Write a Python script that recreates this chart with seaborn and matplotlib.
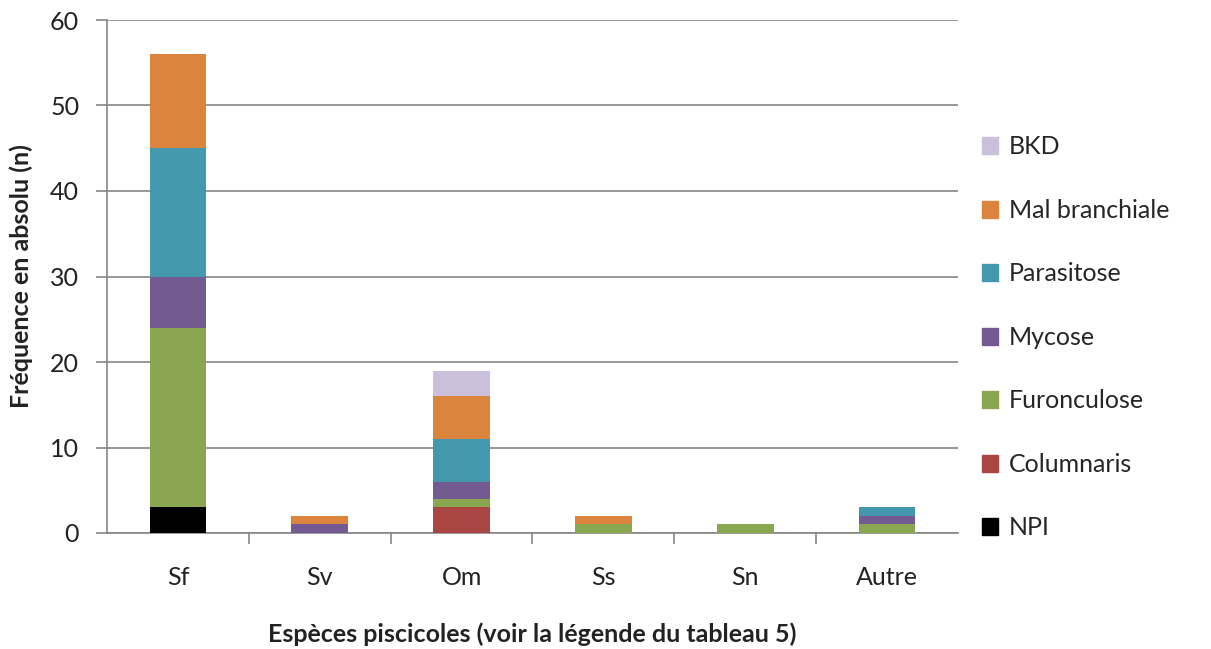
import seaborn as sns
import matplotlib.pyplot as plt
import matplotlib.patches as mpatches
import numpy as np
import pandas as pd

# data
especes = ['Sf', 'Sv', 'Om', 'Ss', 'Sn', 'Autre']
npi = [3, 0, 0, 0, 0, 0]
columnaris = [0, 0, 3, 0, 0, 0]
furonculose = [21, 0, 1, 1, 1, 1]
mycose = [6, 1, 2, 0, 0, 1]
parasitose = [15, 0, 5, 0, 0, 1]
mal_branchiale = [11, 1, 5, 1, 0, 0]
bkd = [0, 0, 3, 0, 0, 0]

maladies = ['NPI', 'Columnaris', 'Furonculose', 'Mycose', 'Parasitose', 'Mal branchiale', 'BKD']
couleurs = ['#000000', '#A94643', '#8BA650', '#735A90', '#4398AE', '#DB843D', '#CBC0DB']

sns.set_theme(style="white")
plt.rcParams['font.family'] = ['Liberation Sans Narrow', 'Lato', 'DejaVu Sans']

df = pd.DataFrame({'Espece': especes, 'NPI': npi, 'Columnaris': columnaris,
                   'Furonculose': furonculose, 'Mycose': mycose, 'Parasitose': parasitose,
                   'Mal branchiale': mal_branchiale, 'BKD': bkd})
cum = df[maladies].cumsum(axis=1)
cum['Espece'] = df['Espece']

fig = plt.figure(figsize=(12.11, 6.49), dpi=100)
ax = fig.add_axes([107 / 1211, 1 - 533 / 649, (958 - 107) / 1211, (533 - 20) / 649])

# stacked bars: draw cumulative totals from top layer down
for m, c in zip(maladies[::-1], couleurs[::-1]):
    sns.barplot(data=cum, x='Espece', y=m, color=c, width=0.40, ax=ax,
                saturation=1, edgecolor='none', zorder=3)

ax.set_ylim(0, 60)
ax.set_yticks(range(0, 61, 10))
ax.set_xlim(-0.5, 5.5)
ax.yaxis.grid(True, color='#868686', linewidth=1.2, zorder=0)
ax.set_axisbelow(True)
for s in ['top', 'right']:
    ax.spines[s].set_visible(False)
for s in ['left', 'bottom']:
    ax.spines[s].set_color('#868686')
    ax.spines[s].set_linewidth(1.2)

ax.tick_params(axis='y', left=True, length=8, width=1.2, color='#868686',
               labelsize=18, pad=12, labelcolor='#222222')
ax.tick_params(axis='x', bottom=False, labelsize=18, pad=18, labelcolor='#222222')
ax.set_xticks(np.arange(0.5, 5.5, 1), minor=True)
ax.tick_params(axis='x', which='minor', bottom=True, length=8, width=1.2, color='#868686')

ax.set_xlabel('Espèces piscicoles (voir la légende du tableau 5)', fontsize=18,
              fontweight='bold', labelpad=24, color='#222222')
ax.set_ylabel('Fréquence en absolu (n)', fontsize=18, fontweight='bold',
              labelpad=12, color='#222222')

handles = [mpatches.Patch(color=c, label=m) for m, c in zip(maladies[::-1], couleurs[::-1])]
fig.legend(handles=handles, loc='center left', bbox_to_anchor=(0.792, 0.48),
           frameon=False, fontsize=18, labelspacing=1.62, handlelength=0.65,
           handleheight=0.65, handletextpad=0.45)

plt.savefig('out.png', dpi=100)
